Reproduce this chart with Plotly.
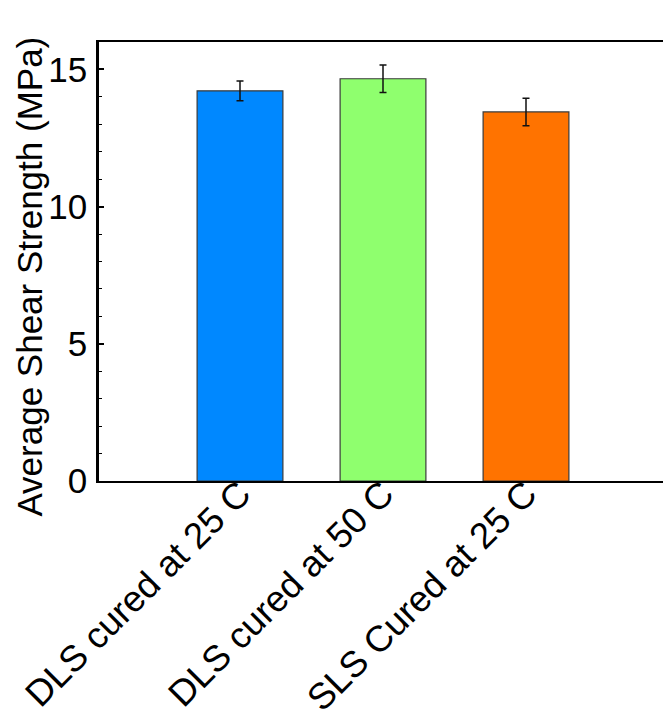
import plotly.graph_objects as go

# Lap-shear results for the three curing conditions
categories = ["DLS cured at 25 C", "DLS cured at 50 C", "SLS Cured at 25 C"]
shear_mpa = [14.22, 14.66, 13.45]
shear_err = [0.36, 0.50, 0.50]
bar_colors = ["#0088FF", "#8FFF6E", "#FF7300"]

FONT = "Arial, Liberation Sans, sans-serif"

fig = go.Figure()
fig.add_trace(go.Bar(
    x=list(range(len(categories))),
    y=shear_mpa,
    width=0.6,
    marker=dict(color=bar_colors, line=dict(color="#3a3a3a", width=1.2)),
    error_y=dict(type="data", array=shear_err, visible=True,
                 color="#111111", thickness=1.5, width=3.5),
    showlegend=False,
))

fig.update_layout(
    width=663, height=722,
    margin=dict(l=99, r=0, t=42, b=241, autoexpand=False),
    paper_bgcolor="white", plot_bgcolor="white",
    font=dict(family=FONT, size=34, color="black"),
    bargap=0.4,
    xaxis=dict(
        range=[-0.986, 2.958],
        tickmode="array",
        tickvals=list(range(len(categories))),
        ticktext=categories,
        tickangle=-45,
        ticks="",
        showline=True, linecolor="black", linewidth=2,
        mirror=True,
        showgrid=False, zeroline=False,
        automargin=False,
        tickfont=dict(size=36.5),
        ticklabelstandoff=-25,
    ),
    yaxis=dict(
        range=[0, 16],
        tickmode="array",
        tickvals=[0, 5, 10, 15],
        ticks="inside", ticklen=5, tickwidth=1.5, tickcolor="black",
        minor=dict(dtick=1, ticks="inside", ticklen=3, tickwidth=1.2,
                   tickcolor="black", showgrid=False),
        showline=True, linecolor="black", linewidth=2.5,
        showgrid=False, zeroline=False,
        automargin=False,
        tickfont=dict(size=35),
        ticklabelstandoff=2,
    ),
    annotations=[dict(
        text="Average Shear Strength (MPa)",
        textangle=-90,
        xref="paper", yref="paper",
        x=-0.123, y=0.4647,
        xanchor="center", yanchor="middle",
        showarrow=False,
        font=dict(family=FONT, size=35, color="black"),
    )],
)

fig.write_html("out.html")
